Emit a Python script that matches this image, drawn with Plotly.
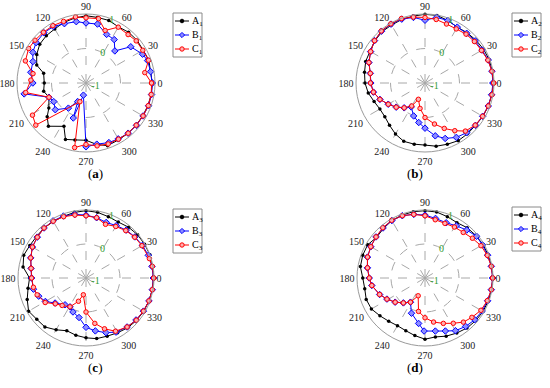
import plotly.graph_objects as go

# ---------------- data (angle in degrees, normalised response) ----------------
# panel (a)
A1_theta = [0,10,20,30,40,50,60,70,80,90,100,110,120,130,140,150,160,167,180,191,201,214,221,229,243,250,259,270,280,289,300,310,320,330,340,350]
A1_r     = [0.92,0.90,0.94,0.91,0.93,0.92,0.88,0.93,0.93,0.95,0.91,0.87,0.81,0.79,0.75,0.65,0.52,0.26,0.21,0.25,0.15,0.30,0.49,0.66,0.41,0.74,0.68,0.66,0.81,0.92,0.90,0.90,0.90,0.90,0.91,0.92]
B1_theta = [0,10,20,27,39,48,57,67,79,90,99,110,120,130,141,150,158,169,180,190,201,210,221,235,246,250,258,270,280,291,300,310,320,330,340,350]
B1_r     = [0.92,0.90,0.90,0.84,0.67,0.25,0.50,0.53,0.74,0.74,0.80,0.83,0.89,0.90,0.86,0.78,0.66,0.63,0.54,0.82,0.15,0.08,0.18,-0.11,-0.41,0.08,-0.64,0.85,0.80,0.85,0.87,0.90,0.91,0.91,0.93,0.93]
C1_theta = [0,10,20,30,40,49,60,70,79,90,99,110,120,130,140,149,160,170,177,189,201,211,220,252,260,270,280,290,300,310,320,330,340,350]
C1_r     = [0.90,0.73,0.93,0.90,0.90,0.86,0.87,0.62,0.90,0.89,0.94,0.90,0.92,0.92,0.93,0.94,0.87,0.56,0.60,0.77,0.15,0.81,0.90,-0.43,0.90,0.78,0.85,0.88,0.88,0.90,0.90,0.91,0.92,0.92]

# panel (b)
A2_theta = list(range(0, 360, 10))
A2_r     = [0.99,0.98,0.98,0.96,0.93,0.90,0.87,0.93,0.99,0.99,0.97,0.96,0.94,0.94,0.90,0.84,0.83,0.78,0.74,0.67,0.57,0.51,0.52,0.60,0.71,0.80,0.80,0.80,0.86,0.89,0.93,0.92,0.91,0.94,0.95,0.97]
B2_theta = [0,10,20,30,40,50,60,70,80,90,100,110,120,130,140,150,160,170,180,190,200,210,220,230,240,251,261,270,281,290,300,310,320,330,340,350]
B2_r     = [0.97,0.97,0.95,0.91,0.90,0.88,0.87,0.93,0.93,0.82,0.93,0.97,0.97,0.96,0.91,0.82,0.73,0.61,0.57,0.52,0.39,0.23,0.09,-0.06,-0.20,0.01,0.16,0.31,0.56,0.71,0.82,0.88,0.91,0.93,0.95,0.96]
C2_theta = [0,10,20,30,40,50,60,70,80,90,100,110,120,130,140,150,160,170,180,190,200,210,220,230,240,248,259,270,283,293,302,310,320,330,340,350]
C2_r     = [0.99,0.97,0.94,0.89,0.87,0.85,0.81,0.82,0.87,0.90,0.94,0.99,0.98,0.97,0.91,0.82,0.73,0.61,0.58,0.52,0.39,0.23,0.09,-0.06,-0.23,-0.49,-0.25,0.00,0.22,0.43,0.63,0.82,0.90,0.93,0.95,0.97]

# panel (c)
A3_theta = list(range(0, 360, 10))
A3_r     = [0.99,1.00,1.00,0.99,0.98,0.95,0.90,0.92,0.96,0.98,0.96,0.93,0.92,0.92,0.90,0.91,0.95,0.88,0.66,0.73,0.84,0.95,0.89,0.88,0.76,0.65,0.71,0.76,0.81,0.82,0.86,0.91,0.94,0.96,0.97,0.98]
B3_theta = [0,10,20,30,40,50,60,70,80,90,100,110,120,130,140,150,160,170,180,192,201,210,219,232,241,249,260,270,280,290,299,310,320,330,340,350]
B3_r     = [0.98,0.97,0.95,0.92,0.88,0.84,0.78,0.74,0.80,0.85,0.90,0.94,0.94,0.92,0.87,0.82,0.73,0.64,0.60,0.58,0.49,0.38,0.17,0.00,-0.03,0.07,0.18,0.45,0.58,0.71,0.82,0.88,0.92,0.95,0.97,0.98]
C3_theta = [0,10,17,30,40,50,60,70,80,90,100,110,120,130,140,150,160,170,180,190,199,211,220,229,241,252,261,270,281,290,299,310,320,330,340,350]
C3_r     = [0.99,0.98,0.95,0.90,0.87,0.82,0.75,0.68,0.80,0.83,0.88,0.92,0.93,0.92,0.87,0.82,0.73,0.64,0.60,0.57,0.52,0.40,0.18,0.07,-0.03,-0.28,-0.50,0.00,0.36,0.59,0.79,0.88,0.93,0.95,0.97,0.98]

# panel (d)
A4_theta = list(range(0, 360, 10))
A4_r     = [1.00,0.99,0.98,0.97,0.95,0.93,0.88,0.92,0.97,0.98,0.98,0.97,0.95,0.90,0.86,0.95,0.95,0.93,0.83,0.80,0.84,0.82,0.73,0.66,0.62,0.65,0.72,0.80,0.76,0.82,0.87,0.92,0.95,0.97,0.98,0.99]
B4_theta = [0,10,20,30,39,49,59,69,80,90,100,110,120,130,140,150,160,170,180,188,200,209,219,229,239,249,262,269,281,291,300,310,320,330,340,350]
B4_r     = [0.99,0.98,0.96,0.95,0.95,0.87,0.79,0.74,0.78,0.85,0.90,0.95,0.95,0.92,0.88,0.84,0.80,0.72,0.64,0.58,0.42,0.28,0.13,-0.03,-0.17,0.11,0.35,0.56,0.59,0.67,0.79,0.86,0.91,0.94,0.96,0.98]
C4_theta = [0,10,20,30,40,50,60,70,80,90,100,110,120,130,140,150,160,170,180,188,200,209,219,229,239,249,259,270,281,292,302,311,320,330,340,350]
C4_r     = [0.99,0.98,0.95,0.90,0.82,0.75,0.73,0.71,0.74,0.83,0.90,0.95,0.96,0.93,0.88,0.84,0.80,0.72,0.64,0.58,0.42,0.28,0.13,-0.03,-0.17,-0.44,0.00,0.17,0.32,0.44,0.57,0.72,0.80,0.90,0.95,0.98]

angle_ticks = [0, 30, 60, 90, 120, 150, 180, 210, 240, 270, 300, 330]
radial_ticks = [-1, 0, 1]
panel_labels = ["a", "b", "c", "d"]
series_letters = ["A", "B", "C"]

panels = [
    [(A1_theta, A1_r), (B1_theta, B1_r), (C1_theta, C1_r)],
    [(A2_theta, A2_r), (B2_theta, B2_r), (C2_theta, C2_r)],
    [(A3_theta, A3_r), (B3_theta, B3_r), (C3_theta, C3_r)],
    [(A4_theta, A4_r), (B4_theta, B4_r), (C4_theta, C4_r)],
]

W, H = 550, 388
FONT = "Liberation Serif, Times New Roman, serif"
COLORS = ["#000000", "#0000ff", "#ff0000"]
FILLS = ["#000000", "#8c8cff", "#ffb0b0"]

styles = [
    dict(line=dict(color=COLORS[0], width=1), marker=dict(symbol="circle", size=3.5, color=FILLS[0])),
    dict(line=dict(color=COLORS[1], width=1), marker=dict(symbol="diamond", size=5, color=FILLS[1], line=dict(color=COLORS[1], width=1))),
    dict(line=dict(color=COLORS[2], width=1), marker=dict(symbol="circle", size=4.5, color=FILLS[2], line=dict(color=COLORS[2], width=1))),
]

# panel geometry in pixels: centre x, centre y, radius
geom = [(86, 83, 69), (425, 83, 69), (86, 278, 68), (425, 278, 68)]
legend_box = [(173, 13), (512, 13), (173, 209), (512, 207)]   # top-left of legend frame (px)
label_pos = [(86, 174), (425, 174), (86, 377), (425, 377)]


def px(x):
    return x / W


def py(y):
    return 1 - y / H


fig = go.Figure()
layout = dict(width=W, height=H, margin=dict(l=0, r=0, t=0, b=0),
              paper_bgcolor="white", plot_bgcolor="white", showlegend=False,
              font=dict(family=FONT, size=10, color="#222"))
annotations = []
shapes = []

for i, series in enumerate(panels):
    pname = "polar" if i == 0 else f"polar{i+1}"
    for j, (th, rr) in enumerate(series):
        name = f"{series_letters[j]}<sub>{i+1}</sub>"
        fig.add_trace(go.Scatterpolar(
            theta=th + [th[0]], r=rr + [rr[0]], mode="lines+markers", name=name,
            subplot=pname, **styles[j]))
    cx, cy, R = geom[i]
    layout[pname] = dict(
        domain=dict(x=[px(cx - R), px(cx + R)], y=[py(cy + R), py(cy - R)]),
        bgcolor="white",
        angularaxis=dict(rotation=0, direction="counterclockwise", tickvals=angle_ticks,
                         ticktext=[str(a) for a in angle_ticks], ticks="", ticklen=0,
                         showline=True, linecolor="#9a9a9a", linewidth=1,
                         showgrid=True, gridcolor="#a8a8a8", griddash="dash", gridwidth=1,
                         tickfont=dict(family=FONT, size=10, color="#222")),
        radialaxis=dict(range=[-1, 1], tickvals=radial_ticks, ticktext=[str(v) for v in radial_ticks],
                        angle=75, tickangle=75, showline=False, ticks="", ticklen=0,
                        showgrid=True, gridcolor="#a8a8a8", griddash="dash", gridwidth=1,
                        tickfont=dict(family=FONT, size=10, color="#2e9a2e")),
    )

    # ----- legend frame drawn as layout decoration -----
    bx, by = legend_box[i]
    bw, bh = 29, 44
    shapes.append(dict(type="rect", xref="paper", yref="paper",
                       x0=px(bx), x1=px(bx + bw), y0=py(by + bh), y1=py(by),
                       line=dict(color="#8a8a8a", width=1), fillcolor="white", layer="above"))
    for j in range(3):
        ly = by + 8 + 14 * j
        shapes.append(dict(type="line", xref="paper", yref="paper",
                           x0=px(bx + 2), x1=px(bx + 16), y0=py(ly), y1=py(ly),
                           line=dict(color=COLORS[j], width=1), layer="above"))
        mx = bx + 9
        if j == 1:
            d = 2.6
            path = (f"M {px(mx - d)},{py(ly)} L {px(mx)},{py(ly - d)} "
                    f"L {px(mx + d)},{py(ly)} L {px(mx)},{py(ly + d)} Z")
            shapes.append(dict(type="path", xref="paper", yref="paper", path=path,
                               line=dict(color=COLORS[j], width=1), fillcolor=FILLS[j], layer="above"))
        else:
            rad = 1.8 if j == 0 else 2.2
            shapes.append(dict(type="circle", xref="paper", yref="paper",
                               x0=px(mx - rad), x1=px(mx + rad), y0=py(ly + rad), y1=py(ly - rad),
                               line=dict(color=COLORS[j], width=1), fillcolor=FILLS[j], layer="above"))
        annotations.append(dict(text=f"{series_letters[j]}<sub>{i+1}</sub>", x=px(bx + 17), y=py(ly),
                                xref="paper", yref="paper", xanchor="left", yanchor="middle",
                                showarrow=False, font=dict(family=FONT, size=10, color="#000")))

    lx, ly = label_pos[i]
    annotations.append(dict(text=f"(<b>{panel_labels[i]}</b>)", x=px(lx), y=py(ly),
                            xref="paper", yref="paper", showarrow=False,
                            font=dict(family=FONT, size=13, color="#000")))

layout["annotations"] = annotations
layout["shapes"] = shapes
fig.update_layout(**layout)
fig.write_html("out.html", config={"displayModeBar": False},
               post_script="document.body.style.margin='0';document.body.style.overflow='hidden';")
